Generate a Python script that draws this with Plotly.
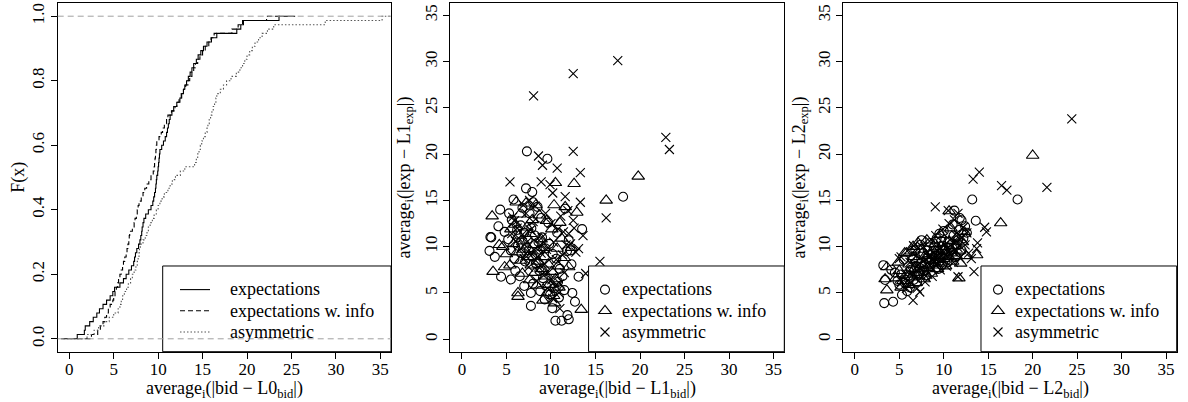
import plotly.graph_objects as go

# ---------------- data ----------------
groups = ["expectations", "expectations w. info", "asymmetric"]

# panel 1: per-subject average |bid - L0_bid| (sorted), read from the ECDF steps
ecdf_expectations = [0.9, 1.7, 1.8, 2.3, 2.7, 3.1, 3.4, 3.8, 4.2, 4.6, 4.9, 5.1, 5.7, 6.1, 6.4,
                     6.7, 7.0, 7.25, 7.35, 7.45, 7.6, 7.8, 7.95, 8.05, 8.15, 8.2, 8.3, 8.4, 8.6, 8.9,
                     9.2, 9.4, 9.5, 9.6, 9.7, 9.75, 9.8, 9.85, 9.95, 10.0, 10.05, 10.1, 10.15, 10.2,
                     10.4, 10.6, 10.8, 10.95, 11.05, 11.15, 11.25, 11.35, 11.55, 11.75, 12.1, 12.45,
                     12.65, 12.85, 13.0, 13.2, 13.4, 13.6, 13.8, 14.0, 14.3, 14.5, 14.8, 15.1, 15.5,
                     16.0, 16.6, 18.85, 19.3, 19.6, 23.6]
ecdf_info = [2.5, 3.2, 3.5, 3.8, 4.0, 4.2, 4.4, 4.6, 4.9, 5.0, 5.15, 5.3, 5.45, 5.55, 5.7, 5.85,
             6.0, 6.1, 6.25, 6.4, 6.5, 6.6, 6.7, 6.75, 6.8, 7.1, 7.3, 7.4, 7.55, 7.65, 7.75, 7.85,
             8.1, 8.3, 8.5, 8.7, 8.95, 9.2, 9.45, 9.55, 9.6, 9.65, 9.7, 9.75, 9.8, 9.85, 10.1,
             10.35, 10.5, 10.7, 10.95, 11.1, 11.5, 11.9, 12.1, 12.35, 12.6, 12.85, 13.1, 13.35,
             13.55, 13.8, 14.0, 14.2, 14.45, 14.7, 15.0, 15.3, 15.7, 15.95, 16.3, 18.3, 19.0,
             19.5, 22.2]
ecdf_asymmetric = [2.0, 2.8, 3.3, 3.9, 4.5, 5.0, 5.5, 5.7, 5.85, 6.0, 6.2, 6.45, 6.65, 6.9, 7.1,
                   7.3, 7.5, 7.65, 7.75, 7.85, 7.9, 8.0, 8.3, 8.55, 8.75, 8.9, 9.1, 9.35, 9.55, 9.8,
                   10.0, 10.2, 10.45, 10.7, 11.1, 11.35, 11.6, 11.95, 12.5, 13.0, 14.1, 14.3, 14.45,
                   14.6, 14.75, 14.9, 15.1, 15.3, 15.5, 15.6, 15.75, 15.9, 16.05, 16.2, 16.35, 16.5,
                   16.6, 17.0, 17.35, 17.7, 18.2, 18.8, 19.2, 19.5, 19.75, 20.0, 20.3, 20.6, 20.9,
                   21.3, 21.7, 22.3, 23.0, 28.8, 35.2]

# panel 2: (|bid - L1_bid|, |exp - L1_exp|)
p2_expectations = [(7.3, 20.3), (9.6, 19.5), (18.1, 15.4), (4.3, 14.0), (13.5, 11.9), (12.0, 10.7),
                   (3.2, 11.05), (3.1, 9.55), (3.7, 8.9), (4.4, 6.75), (5.5, 6.45), (7.0, 5.75),
                   (7.75, 5.0), (7.75, 3.6), (12.4, 5.0), (12.7, 4.05), (13.1, 6.75), (10.15, 3.35),
                   (10.5, 2.0), (11.2, 2.0), (11.85, 2.6), (12.0, 2.15), (7.2, 16.3), (7.9, 15.9),
                   (5.3, 13.6), (7.6, 13.6), (8.5, 14.3), (11.6, 14.1), (12.2, 9.6), (3.3, 11.0),
                   (5.6, 12.9), (6.2, 11.8), (6.6, 12.3), (7.0, 11.5), (7.4, 10.8), (7.8, 12.0),
                   (8.2, 11.2), (8.6, 10.5), (9.0, 11.0), (9.4, 9.8), (9.8, 10.3), (10.2, 9.2),
                   (10.6, 8.7), (11.0, 7.6), (11.3, 6.8), (10.8, 6.2), (10.4, 5.5), (9.9, 4.8),
                   (9.5, 5.7), (9.1, 6.6), (8.7, 7.4), (8.3, 8.2), (7.9, 9.0), (7.5, 9.6), (7.1, 8.4),
                   (6.7, 9.3), (6.3, 10.1), (5.9, 8.7), (5.5, 9.6), (5.2, 10.8), (4.8, 11.6),
                   (6.0, 7.4), (6.5, 6.8), (8.0, 6.0), (8.8, 5.2), (9.3, 4.3), (10.9, 4.5),
                   (11.5, 5.3), (12.3, 8.1), (11.8, 9.5), (10.7, 11.5), (9.7, 12.6), (8.9, 13.1),
                   (8.0, 14.8), (6.8, 14.2), (5.8, 15.1), (4.1, 12.2)]
p2_info = [(19.8, 17.6), (16.2, 15.0), (10.5, 16.9), (12.6, 16.8), (12.9, 13.7), (11.6, 14.3),
           (3.4, 13.3), (3.5, 7.3), (4.8, 7.8), (4.6, 10.0), (6.3, 5.0), (6.3, 4.6), (9.1, 4.2),
           (12.0, 7.8), (13.4, 3.2), (6.1, 14.8), (7.2, 14.7), (10.35, 14.5), (5.5, 11.9),
           (6.0, 12.4), (6.4, 11.2), (6.9, 10.6), (7.3, 12.1), (7.7, 11.4), (8.1, 10.2), (8.5, 9.5),
           (8.9, 10.8), (9.3, 8.9), (9.7, 8.1), (10.1, 7.3), (10.5, 6.5), (10.9, 5.6), (10.3, 4.7),
           (9.8, 5.9), (9.4, 6.8), (9.0, 7.6), (8.6, 8.4), (8.2, 7.2), (7.8, 8.0), (7.4, 8.9),
           (7.0, 9.7), (6.6, 8.5), (6.2, 9.4), (5.8, 10.3), (5.4, 8.0), (5.0, 9.2), (4.2, 10.2),
           (6.8, 7.1), (7.6, 6.4), (8.4, 5.8), (9.6, 5.0), (10.7, 9.8), (11.2, 10.9), (11.0, 12.6),
           (10.1, 11.9), (9.5, 12.8), (8.7, 13.4), (7.9, 12.9), (8.3, 14.5), (11.5, 8.8),
           (10.4, 3.9), (12.3, 9.9), (10.8, 7.9), (9.2, 9.9), (6.5, 13.5)]
p2_asymmetric = [(17.5, 30.1), (12.5, 28.7), (8.05, 26.3), (22.9, 21.8), (23.3, 20.5), (12.5, 20.3),
                 (8.6, 19.8), (9.05, 18.8), (10.7, 18.5), (13.3, 18.0), (5.4, 17.0), (8.9, 17.0),
                 (10.2, 15.8), (11.6, 15.4), (13.3, 14.8), (16.2, 13.1), (12.5, 12.85), (15.5, 8.4),
                 (13.1, 9.8), (12.0, 11.4), (5.7, 13.2), (13.9, 7.1), (11.0, 3.3), (6.2, 12.0),
                 (6.8, 11.3), (7.3, 10.5), (7.7, 11.8), (8.1, 9.7), (8.5, 8.9), (8.9, 9.3), (9.3, 8.1),
                 (9.7, 7.2), (10.1, 6.4), (10.5, 5.8), (10.9, 5.0), (10.2, 4.4), (9.6, 5.5), (9.2, 6.9),
                 (8.7, 7.7), (8.3, 8.5), (7.9, 9.2), (7.5, 7.8), (7.0, 8.7), (6.6, 9.8), (6.0, 10.6),
                 (5.6, 11.4), (11.3, 9.1), (11.7, 10.2), (10.8, 11.9), (10.0, 12.5), (9.4, 13.6),
                 (8.2, 14.4), (7.6, 15.0), (11.1, 13.3), (12.2, 10.3), (11.5, 7.2), (12.6, 12.0),
                 (10.3, 10.5), (9.0, 11.0), (8.0, 12.7), (7.2, 13.6), (6.4, 10.9), (11.9, 13.9),
                 (9.9, 16.7), (11.4, 11.6), (10.6, 8.6), (12.8, 9.4), (13.6, 11.2), (8.8, 10.2),
                 (9.5, 9.7), (7.4, 9.5), (6.9, 14.5), (5.9, 12.8), (11.0, 6.0), (8.4, 6.3)]

# panel 3: (|bid - L2_bid|, |exp - L2_exp|)
p3_expectations = [(18.3, 15.1), (13.2, 15.1), (13.6, 12.8), (3.3, 3.9), (4.3, 4.05), (3.2, 8.0),
                   (5.3, 4.8), (7.5, 10.7), (9.5, 11.4), (11.2, 13.9), (12.0, 12.85), (4.1, 7.5),
                   (3.4, 6.4), (4.8, 6.3), (5.2, 7.0), (5.6, 6.1), (6.0, 6.8), (6.3, 7.5), (6.6, 6.4),
                   (6.9, 7.9), (7.2, 7.1), (7.5, 8.3), (7.8, 7.4), (8.1, 8.8), (8.4, 7.9), (8.7, 9.2),
                   (9.0, 8.4), (9.3, 9.6), (9.6, 8.8), (9.9, 10.1), (10.2, 9.2), (10.5, 10.5),
                   (10.8, 9.6), (11.1, 11.2), (11.4, 10.1), (11.7, 11.8), (12.2, 10.9), (12.6, 11.5),
                   (6.2, 5.6), (7.0, 6.2), (7.7, 9.3), (8.5, 10.4), (9.4, 7.6), (10.4, 8.3),
                   (11.0, 12.4), (5.5, 8.6), (6.8, 9.6), (8.0, 6.9), (9.2, 10.9), (10.0, 11.7),
                   (11.3, 8.9), (12.0, 9.6), (4.5, 7.2), (5.9, 5.2), (6.5, 8.6), (7.4, 10.2),
                   (8.9, 9.9), (9.8, 8.0), (10.6, 9.9), (11.6, 10.7), (7.9, 8.1), (8.6, 8.6),
                   (9.1, 9.0), (10.1, 9.6), (6.1, 7.3), (7.3, 7.7), (9.7, 10.6), (11.8, 13.1),
                   (12.4, 12.2), (5.0, 5.9), (8.2, 9.6)]
p3_info = [(20.0, 19.85), (16.4, 12.55), (11.7, 6.6), (10.6, 13.85), (3.4, 6.5), (3.6, 5.3),
           (3.6, 7.8), (5.8, 9.3), (6.55, 10.0), (13.7, 9.1), (4.6, 6.6), (5.0, 7.4), (5.4, 6.3),
           (5.8, 7.0), (6.1, 8.1), (6.4, 6.7), (6.7, 7.6), (7.0, 8.6), (7.3, 7.2), (7.6, 8.0),
           (7.9, 9.0), (8.2, 7.7), (8.5, 8.5), (8.8, 9.5), (9.1, 8.2), (9.4, 9.0), (9.7, 10.0),
           (10.0, 8.7), (10.3, 9.5), (10.6, 10.6), (10.9, 9.3), (11.2, 10.1), (11.5, 11.0),
           (11.8, 9.6), (12.1, 10.5), (12.5, 9.0), (5.6, 9.3), (6.3, 9.5), (7.1, 10.4), (7.8, 6.5),
           (8.6, 7.1), (9.3, 7.6), (10.2, 7.9), (11.0, 8.4), (12.3, 11.6), (6.9, 6.1), (8.1, 10.7),
           (9.6, 11.3), (10.8, 12.0), (5.2, 5.6), (6.0, 5.9), (7.5, 9.7), (8.4, 9.2), (9.0, 10.3),
           (9.9, 9.7), (10.5, 8.9), (11.4, 9.0), (11.9, 8.2), (4.9, 8.3), (6.6, 8.9), (7.2, 6.8),
           (8.7, 8.0), (9.5, 8.6)]
p3_asymmetric = [(24.4, 23.8), (21.6, 16.4), (16.5, 16.6), (17.1, 16.1), (14.0, 18.05), (13.3, 17.3),
                 (14.6, 12.1), (14.8, 11.6), (9.05, 14.3), (10.5, 13.9), (11.6, 13.6), (13.4, 7.3),
                 (13.7, 9.8), (13.8, 10.4), (6.55, 4.2), (7.3, 5.1), (5.2, 8.9), (11.6, 6.75),
                 (5.3, 6.2), (5.7, 7.0), (6.0, 5.9), (6.4, 7.3), (6.8, 6.6), (7.1, 8.0), (7.4, 6.9),
                 (7.7, 8.4), (8.0, 7.4), (8.3, 8.9), (8.6, 7.8), (8.9, 9.3), (9.2, 8.2), (9.5, 9.7),
                 (9.8, 8.6), (10.1, 10.2), (10.4, 9.0), (10.7, 10.7), (11.0, 9.5), (11.3, 11.3),
                 (11.6, 9.9), (12.0, 11.0), (12.4, 10.2), (12.8, 9.3), (13.1, 8.7), (6.2, 8.3),
                 (6.9, 9.0), (7.6, 9.9), (8.4, 10.6), (9.1, 11.2), (9.9, 11.9), (10.6, 12.5),
                 (11.2, 12.9), (7.0, 5.5), (7.9, 6.2), (8.7, 6.8), (9.6, 7.5), (10.3, 7.9), (11.1, 8.3),
                 (11.8, 8.8), (12.2, 12.1), (5.0, 8.7), (6.6, 10.1), (8.2, 7.0), (9.4, 8.8), (10.0, 9.4),
                 (10.9, 10.0), (12.6, 11.5), (5.8, 5.5), (7.3, 7.6), (8.8, 8.6), (11.4, 10.6)]

x_ticks = [0, 5, 10, 15, 20, 25, 30, 35]
p1_y_ticks = [0.0, 0.2, 0.4, 0.6, 0.8, 1.0]
p1_y_labels = ["0.0", "0.2", "0.4", "0.6", "0.8", "1.0"]
scatter_y_ticks = [0, 5, 10, 15, 20, 25, 30, 35]

# ---------------- styling ----------------
FONT = "Liberation Serif"
W, H = 1188, 402
doms_x = [[57.7 / W, 391 / W], [450.3 / W, 784.3 / W], [843.3 / W, 1176.7 / W]]
dom_y = [1 - 351.7 / H, 1 - 3.3 / H]
line_styles = [dict(color="black", width=1.1, dash="solid"),
               dict(color="black", width=1.1, dash="5px,3px"),
               dict(color="#555555", width=1.1, dash="1.5px,2px")]
symbols = ["circle-open", "triangle-up-open", "x-thin-open"]
sizes = [9, 11, 9]

fig = go.Figure()


def ecdf_xy(vals):
    v = sorted(vals)
    n = len(v)
    ext = 0.08 * (v[-1] - v[0])
    xs = [v[0] - ext] + v + [v[-1] + ext]
    ys = [0.0] + [(i + 1) / n for i in range(n)] + [1.0]
    return xs, ys


# legend symbols come from the traces; legend labels are placed as text next to them
for name, vals, ls in zip(groups, [ecdf_expectations, ecdf_info, ecdf_asymmetric], line_styles):
    xs, ys = ecdf_xy(vals)
    fig.add_trace(go.Scatter(x=xs, y=ys, mode="lines", line=dict(shape="hv", **ls),
                             name=" ", xaxis="x", yaxis="y", legend="legend"))

for idx, sets in [(2, [p2_expectations, p2_info, p2_asymmetric]),
                  (3, [p3_expectations, p3_info, p3_asymmetric])]:
    for name, pts, sym, sz in zip(groups, sets, symbols, sizes):
        fig.add_trace(go.Scatter(x=[p[0] for p in pts], y=[p[1] for p in pts], mode="markers",
                                 marker=dict(symbol=sym, size=sz, color="black",
                                             line=dict(color="black", width=1.1)),
                                 name=" ", xaxis=f"x{idx}", yaxis=f"y{idx}",
                                 legend=f"legend{idx}"))

axis_common = dict(showline=True, mirror=True, linecolor="black", linewidth=1, ticks="outside",
                   ticklen=6, tickcolor="black", showgrid=False, zeroline=False,
                   tickfont=dict(family=FONT, size=17, color="black"))

layout = dict(width=W, height=H, margin=dict(l=0, r=0, t=0, b=0), paper_bgcolor="white",
              plot_bgcolor="white", font=dict(family=FONT, size=17, color="black"))
for i in range(3):
    sx = "" if i == 0 else str(i + 1)
    layout[f"xaxis{sx}"] = dict(domain=doms_x[i], range=[-1.3, 36.2], tickvals=x_ticks,
                                anchor=f"y{sx}", ticklabelstandoff=-4, **axis_common)
    if i == 0:
        layout["yaxis"] = dict(domain=dom_y, range=[-0.04, 1.04], tickvals=p1_y_ticks,
                               ticktext=p1_y_labels, tickangle=-90, anchor="x", **axis_common)
    else:
        layout[f"yaxis{sx}"] = dict(domain=dom_y, range=[-1.35, 36.3], tickvals=scatter_y_ticks,
                                    tickangle=-90, anchor=f"x{sx}", **axis_common)

legend_x = [175 / W, 585 / W, 978 / W]
for i in range(3):
    key = "legend" if i == 0 else f"legend{i + 1}"
    layout[key] = dict(x=legend_x[i], y=1 - 274 / H, xanchor="left", yanchor="top",
                       bgcolor="rgba(0,0,0,0)", borderwidth=0,
                       font=dict(family=FONT, size=14, color="black"), tracegroupgap=0)

fig.update_layout(**layout)

# legend boxes (white, covering points), then reference lines of panel 1
box_x0 = [0.315, 0.414, 0.413]
for i in range(3):
    sx = "" if i == 0 else str(i + 1)
    fig.add_shape(type="rect", xref=f"x{sx} domain", yref=f"y{sx} domain", x0=box_x0[i], x1=1,
                  y0=0, y1=0.246, fillcolor="white", line=dict(color="black", width=1),
                  layer="above")
for yv in [0, 1]:
    fig.add_shape(type="line", xref="x domain", yref="y", x0=0, x1=1, y0=yv, y1=yv,
                  line=dict(color="#a0a0a0", width=1, dash="6px,4px"), layer="above")

# legend labels
label_x = [227.7, 620, 1013]
label_y = [288.7, 310.7, 331.7]
for i in range(3):
    for name, ly in zip(groups, label_y):
        fig.add_annotation(text=name, x=label_x[i] / W, y=1 - ly / H, xref="paper", yref="paper",
                           showarrow=False, xanchor="left", yanchor="middle",
                           font=dict(family=FONT, size=18, color="black"))

# axis titles
x_titles = ["average<sub>i</sub>(|bid − L0<sub>bid</sub>|)",
            "average<sub>i</sub>(|bid − L1<sub>bid</sub>|)",
            "average<sub>i</sub>(|bid − L2<sub>bid</sub>|)"]
y_titles = ["F(x)",
            "average<sub>i</sub>(|exp − L1<sub>exp</sub>|)",
            "average<sub>i</sub>(|exp − L2<sub>exp</sub>|)"]
y_title_x = [18.3, 405, 800]
for i in range(3):
    cx = (doms_x[i][0] + doms_x[i][1]) / 2
    fig.add_annotation(text=x_titles[i], x=cx, y=1 - 389 / H, xref="paper", yref="paper",
                       showarrow=False, xanchor="center", yanchor="middle",
                       font=dict(family=FONT, size=18, color="black"))
    fig.add_annotation(text=y_titles[i], x=y_title_x[i] / W, y=1 - 177.5 / H, xref="paper",
                       yref="paper", showarrow=False, xanchor="center", yanchor="middle",
                       textangle=-90, font=dict(family=FONT, size=18, color="black"))

fig.write_html("out.html", config={"displayModeBar": False},
               post_script="document.body.style.margin='0';")
